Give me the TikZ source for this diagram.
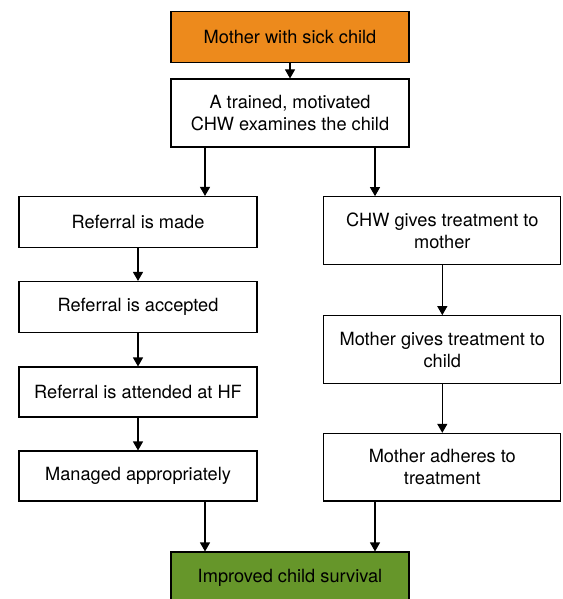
\documentclass[tikz,border=0pt]{standalone}
\usepackage{fontspec}
\setmainfont{TeX Gyre Heros}
\usetikzlibrary{arrows.meta}

\definecolor{boxorange}{RGB}{237,138,28}
\definecolor{boxgreen}{RGB}{102,150,42}

\tikzset{
  box/.style={draw, line width=1.1pt, minimum width=238pt, align=center, inner sep=0pt,
              font=\fontsize{18.2}{22}\selectfont},
  arr/.style={-{Triangle[width=10pt,length=9pt]}, line width=1.1pt}
}

\begin{document}
\begin{tikzpicture}[x=1pt, y=-1pt]

  \useasboundingbox (0,0) rectangle (562,599);

  \def\off{85};

	%top and bottom
  \node[box, fill=boxorange, minimum height=51pt] (mother) at (290,37) {Mother with sick child};
  \node[box, minimum height=68pt] (chw) at (290,113) {A trained, motivated\\CHW examines the child};
  \node[box, fill=boxgreen, minimum height=52pt] (survival) at (290,578) {Improved child survival};

	%referral side
    \foreach \y/\h/\txt/\name in { 222/51/Referral is made/ref1, 307/51/Referral is accepted/ref2,
                                   392/50/Referral is attended at HF/ref3, 476/50/Managed appropriately/ref4}{
           \node[box, minimum height=\h pt] (\name) at (138,\y) {\txt};
    }

	%treatment side
    \foreach \y/\txt/\name in { 230.5/{CHW gives treatment to\\mother}/tr1, 349.5/{Mother gives treatment to\\child}/tr2,
                                467.2/{Mother adheres to\\treatment}/tr3}{
           \node[box, minimum width=237pt, minimum height=67.6pt] (\name) at (442.3,\y) {\txt};
    }

	%arrows
  \draw[arr] (mother) -- (chw);
  \draw[arr] ([xshift=-\off pt]chw.south) -- ([xshift=-\off pt]chw.south |- ref1.north);
  \draw[arr] ([xshift=\off pt]chw.south) -- ([xshift=\off pt]chw.south |- tr1.north);

    \foreach \a/\b in {ref1/ref2, ref2/ref3, ref3/ref4, tr1/tr2, tr2/tr3}{
           \draw[arr] (\a) -- (\b);
    }

  \draw[arr] ([xshift=-\off pt]survival.north |- ref4.south) -- ([xshift=-\off pt]survival.north);
  \draw[arr] ([xshift=\off pt]survival.north |- tr3.south) -- ([xshift=\off pt]survival.north);

\end{tikzpicture}
\end{document}
